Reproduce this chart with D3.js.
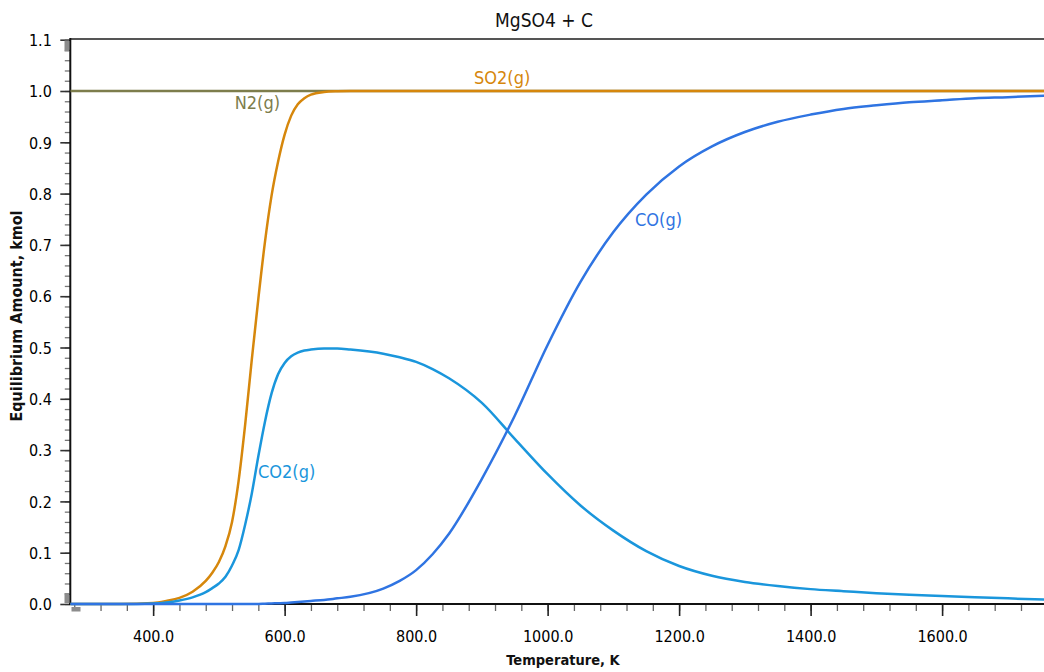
<!DOCTYPE html>
<html><head><meta charset="utf-8">
<script src="https://cdn.jsdelivr.net/npm/d3@7"></script>
<style>
body{margin:0;background:#fff;overflow:hidden;}
svg{display:block;}
text{font-family:"DejaVu Sans Condensed","DejaVu Sans",sans-serif;font-stretch:condensed;}
</style></head><body>
<svg id="chart" width="1044" height="672"></svg>
<script>
// ---- data ----
const chartTitle = "MgSO4 + C";
const xAxisTitle = "Temperature, K";
const yAxisTitle = "Equilibrium Amount, kmol";
const temperatures = [274,350,400,420,440,460,480,490,500,510,520,530,540,550,560,570,580,590,600,610,620,630,640,660,680,700,750,775,800,825,850,900,950,1000,1050,1100,1150,1200,1250,1300,1350,1400,1450,1500,1550,1600,1650,1700,1774];
const n2Values  = [1,1,1,1,1,1,1,1,1,1,1,1,1,1,1,1,1,1,1,1,1,1,1,1,1,1,1,1,1,1,1,1,1,1,1,1,1,1,1,1,1,1,1,1,1,1,1,1,1];
const so2Values = [0,0,0.002,0.006,0.012,0.024,0.045,0.061,0.082,0.113,0.16,0.24,0.35,0.476,0.595,0.705,0.795,0.862,0.915,0.952,0.974,0.986,0.993,0.998,0.9995,1,1,1,1,1,1,1,1,1,1,1,1,1,1,1,1,1,1,1,1,1,1,1,1];
const co2Values = [0,0,0.001,0.003,0.007,0.013,0.023,0.031,0.040,0.053,0.075,0.105,0.155,0.215,0.288,0.355,0.41,0.448,0.47,0.483,0.49,0.494,0.496,0.498,0.498,0.496,0.488,0.481,0.472,0.458,0.440,0.392,0.322,0.253,0.192,0.143,0.103,0.074,0.055,0.043,0.035,0.029,0.025,0.021,0.018,0.0156,0.013,0.011,0.0078];
const coValues  = [0,0,0,0,0,0,0,0,0,0,0,0,0,0,0,0.0005,0.001,0.0015,0.002,0.003,0.004,0.005,0.006,0.008,0.011,0.014,0.030,0.045,0.066,0.097,0.137,0.244,0.367,0.505,0.628,0.725,0.798,0.853,0.892,0.920,0.940,0.954,0.965,0.972,0.978,0.982,0.986,0.988,0.992];
const seriesNames = ["N2(g)","SO2(g)","CO2(g)","CO(g)"];
const seriesColors = ["#7d7d4c","#d6870c","#1a96dc","#2f74e2"];
const xTickValues = [400,600,800,1000,1200,1400,1600];
const xMinorTickValues = d3.range(280,1780,40);
const yTickValues = [0,0.1,0.2,0.3,0.4,0.5,0.6,0.7,0.8,0.9,1.0,1.1];
const yMinorTickValues = d3.range(0,1.1001,0.02);
// label anchor positions in data units [T, value]
const labelAnchors = [[524,0.964],[888,1.0136],[559.5,0.2456],[1133,0.736]];

// ---- layout ----
const svg = d3.select("#chart");
const L = 70.3, R = 1056.5, T = 39.7, B = 604;
const x = d3.scaleLinear().domain([274,1774]).range([L,R]);
const y = d3.scaleLinear().domain([0,1.1]).range([B,T]);

svg.append("defs").append("clipPath").attr("id","clip")
  .append("rect").attr("x",L).attr("y",T-3).attr("width",R-L).attr("height",B-T+6);

// title
svg.append("text").attr("x",544).attr("y",26.5).attr("text-anchor","middle")
  .attr("font-size",19).attr("fill","#111").text(chartTitle);

// top border
svg.append("line").attr("x1",L).attr("x2",1044).attr("y1",39).attr("y2",39)
  .attr("stroke","#555").attr("stroke-width",2);

// x minor ticks
const gxm = svg.append("g").attr("transform",`translate(0,${B})`)
  .call(d3.axisBottom(x).tickValues(xMinorTickValues).tickSize(7).tickFormat("").tickSizeOuter(0));
gxm.select(".domain").remove();
gxm.selectAll("line").attr("stroke","#666").attr("stroke-width",1.3);
// x major ticks
const gx = svg.append("g").attr("transform",`translate(0,${B})`)
  .call(d3.axisBottom(x).tickValues(xTickValues).tickSize(12).tickFormat(d3.format(".1f")).tickSizeOuter(0));
gx.select(".domain").remove();
gx.selectAll("line").attr("stroke","#222").attr("stroke-width",1.6);
gx.selectAll("text").attr("y",38).attr("dy",0).attr("font-size",16)
  .attr("fill","#000").attr("font-family",null);

// y minor ticks
const gym = svg.append("g").attr("transform",`translate(${L},0)`)
  .call(d3.axisLeft(y).tickValues(yMinorTickValues).tickSize(5.5).tickFormat("").tickSizeOuter(0));
gym.select(".domain").remove();
gym.selectAll("line").attr("stroke","#777").attr("stroke-width",1.3);
// y major ticks
const gy = svg.append("g").attr("transform",`translate(${L},0)`)
  .call(d3.axisLeft(y).tickValues(yTickValues).tickSize(10).tickFormat(d3.format(".1f")).tickSizeOuter(0));
gy.select(".domain").remove();
gy.selectAll("line").attr("stroke","#333").attr("stroke-width",1.6);
gy.selectAll("text").attr("x",-18.5).attr("dy","0.36em").attr("font-size",16)
  .attr("fill","#000").attr("font-family",null);

// axis lines
svg.append("line").attr("x1",L).attr("x2",L).attr("y1",38).attr("y2",B+1)
  .attr("stroke","#111").attr("stroke-width",2);
svg.append("line").attr("x1",L-1).attr("x2",1044).attr("y1",B).attr("y2",B)
  .attr("stroke","#111").attr("stroke-width",2);

// gray handles
svg.append("rect").attr("x",64.5).attr("y",40.5).attr("width",4.5).attr("height",11).attr("fill","#8c8c8c");
svg.append("rect").attr("x",64.5).attr("y",593).attr("width",4.5).attr("height",10).attr("fill","#8c8c8c");
svg.append("rect").attr("x",71.5).attr("y",607).attr("width",9).attr("height",4.5).attr("fill","#8c8c8c");

// curves
const allSeries = [n2Values, so2Values, co2Values, coValues];
const line = d3.line().x((d,i)=>x(temperatures[i])).y(d=>y(d)).curve(d3.curveMonotoneX);
const gc = svg.append("g").attr("clip-path","url(#clip)");
allSeries.forEach((vals,k)=>{
  gc.append("path").datum(vals).attr("d",line).attr("fill","none")
    .attr("stroke",seriesColors[k]).attr("stroke-width",2.5).attr("stroke-linejoin","round");
});

// series labels
seriesNames.forEach((name,k)=>{
  svg.append("text").attr("x",x(labelAnchors[k][0])).attr("y",y(labelAnchors[k][1]))
    .attr("font-size",18).attr("fill",seriesColors[k]).text(name);
});

// axis titles
svg.append("text").attr("x",563).attr("y",665).attr("text-anchor","middle")
  .attr("font-size",14.5).attr("font-weight","bold").attr("fill","#111").text(xAxisTitle);
svg.append("text").attr("transform","translate(22,316) rotate(-90)").attr("text-anchor","middle")
  .attr("font-size",16).attr("font-weight","bold").attr("fill","#111").text(yAxisTitle);
</script>
</body></html>
